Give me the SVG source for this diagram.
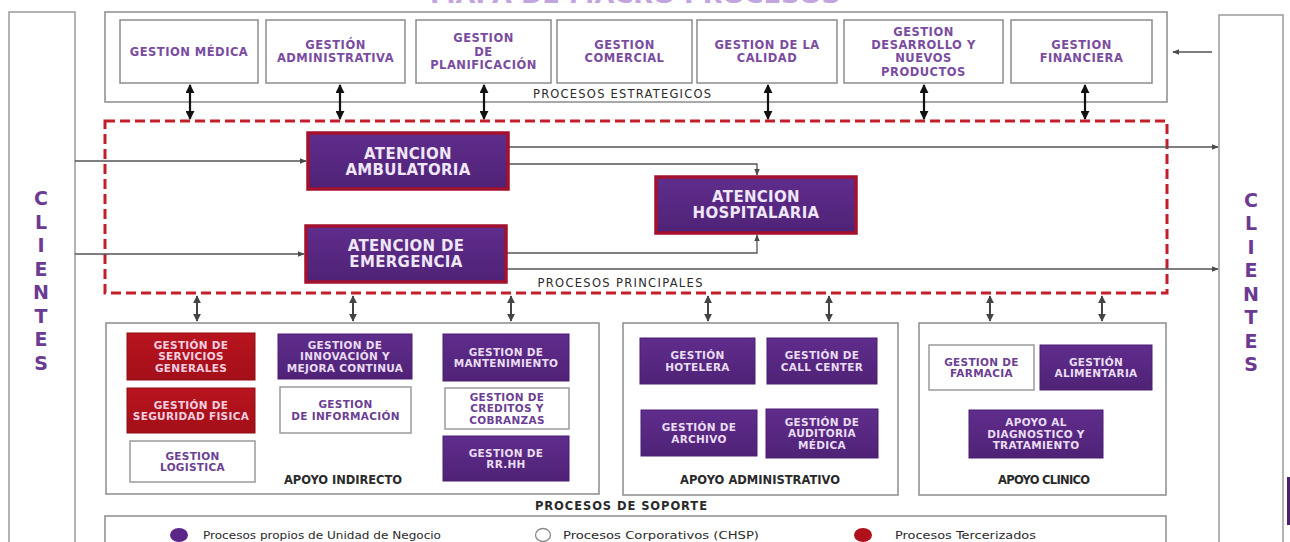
<svg xmlns="http://www.w3.org/2000/svg" width="1290" height="542" viewBox="0 0 1290 542">
  <defs>
    <linearGradient id="gPurple" x1="0" y1="0" x2="0" y2="1">
      <stop offset="0" stop-color="#5f2d8c"/>
      <stop offset="1" stop-color="#4f2276"/>
    </linearGradient>
    <linearGradient id="gRed" x1="0" y1="0" x2="0" y2="1">
      <stop offset="0" stop-color="#b8141e"/>
      <stop offset="1" stop-color="#a30f18"/>
    </linearGradient>
    <marker id="hdBig" viewBox="0 0 10 10" refX="9" refY="5" markerWidth="9" markerHeight="9" markerUnits="userSpaceOnUse" orient="auto-start-reverse">
      <path d="M0,0 L10,5 L0,10 z" fill="#111"/>
    </marker>
    <marker id="hdMid" viewBox="0 0 10 10" refX="9" refY="5" markerWidth="8" markerHeight="8" markerUnits="userSpaceOnUse" orient="auto-start-reverse">
      <path d="M0,0 L10,5 L0,10 z" fill="#444"/>
    </marker>
    <marker id="hdSm" viewBox="0 0 10 10" refX="9" refY="5" markerWidth="7" markerHeight="7" markerUnits="userSpaceOnUse" orient="auto">
      <path d="M0,1 L10,5 L0,9 z" fill="#4a4a4a"/>
    </marker>
  </defs>
  <style>
    .panel{fill:#fff;stroke:#9a9a9a;stroke-width:1.5}
    .frame{fill:#fff;stroke:#8c8c8c;stroke-width:1.5}
    .box{fill:#fff;stroke:#8c8c8c;stroke-width:1.5}
    .pbox{fill:url(#gPurple);stroke:#4a1f70;stroke-width:1}
    .rbox{fill:url(#gRed);stroke:#8e0c14;stroke-width:1}
    .wbox{fill:#fff;stroke:#9a9a9a;stroke-width:1.5}
    .main{fill:url(#gPurple);stroke:#a3112e;stroke-width:3.5}
    .dash{fill:none;stroke:#c21f2b;stroke-width:3;stroke-dasharray:10 5}
    text{font-family:"DejaVu Sans","Liberation Sans",sans-serif}
    .tt{font-size:11.5px;font-weight:bold;fill:#7a4ca0;text-anchor:middle;letter-spacing:0.5px}
    .mt{font-size:15px;font-weight:bold;fill:#efe6f7;text-anchor:middle;letter-spacing:0.3px}
    .st{font-size:10.5px;font-weight:bold;text-anchor:middle;letter-spacing:0.3px}
    .onP{fill:#e9dcf3}
    .onR{fill:#f3cfe0}
    .onW{fill:#6c3f95}
    .lab{font-size:11.5px;fill:#2a2a2a;text-anchor:middle}
    .labB{font-size:11.5px;font-weight:bold;fill:#2a2a2a;text-anchor:middle}
    .cli{font-size:19px;font-weight:bold;fill:#6b3a93;text-anchor:middle}
    .leg{font-size:11px;fill:#2a2a2a}
    .c1{fill:none;stroke:#111;stroke-width:2.2}
    .c2{fill:none;stroke:#444;stroke-width:2}
    .c3{fill:none;stroke:#555;stroke-width:1.3}
  </style>

  <!-- heading, running off the top edge -->
  <text x="635" y="3" font-size="22" font-weight="bold" fill="#c2a4df" text-anchor="middle" textLength="410" lengthAdjust="spacingAndGlyphs">MAPA DE MACRO PROCESOS</text>

  <!-- client columns -->
  <g id="clientes-izq">
    <rect class="panel" x="9" y="12" width="66" height="545"/>
    <text class="cli" x="41"><tspan x="41" y="205">C</tspan><tspan x="41" y="228.5">L</tspan><tspan x="41" y="252">I</tspan><tspan x="41" y="275.5">E</tspan><tspan x="41" y="299">N</tspan><tspan x="41" y="322.5">T</tspan><tspan x="41" y="346">E</tspan><tspan x="41" y="369.5">S</tspan></text>
  </g>
  <g id="clientes-der">
    <rect class="panel" x="1219" y="15" width="64" height="545"/>
    <text class="cli" x="1251"><tspan x="1251" y="206.5">C</tspan><tspan x="1251" y="230">L</tspan><tspan x="1251" y="253.5">I</tspan><tspan x="1251" y="277">E</tspan><tspan x="1251" y="300.5">N</tspan><tspan x="1251" y="324">T</tspan><tspan x="1251" y="347.5">E</tspan><tspan x="1251" y="371">S</tspan></text>
  </g>
  <rect x="1287" y="477" width="3" height="48" fill="#4a1f6e"/>

  <!-- strategic processes -->
  <g id="estrategicos">
    <rect class="frame" x="105" y="12" width="1062" height="90"/>
    <text class="lab" x="622" y="98" textLength="178" lengthAdjust="spacing">PROCESOS ESTRATEGICOS</text>
  </g>
  <g id="gestion-medica">
    <rect class="box" x="120" y="20" width="138" height="63"/>
    <text class="tt" x="189" y="55.7">GESTION MÉDICA</text>
  </g>
  <g id="gestion-administrativa">
    <rect class="box" x="266" y="20" width="139" height="63"/>
    <text class="tt"><tspan x="335.5" y="49">GESTIÓN</tspan><tspan x="335.5" y="62.3">ADMINISTRATIVA</tspan></text>
  </g>
  <g id="gestion-planificacion">
    <rect class="box" x="416" y="20" width="135" height="63"/>
    <text class="tt"><tspan x="483.5" y="42.4">GESTION</tspan><tspan x="483.5" y="55.7">DE</tspan><tspan x="483.5" y="69">PLANIFICACIÓN</tspan></text>
  </g>
  <g id="gestion-comercial">
    <rect class="box" x="557" y="20" width="135" height="63"/>
    <text class="tt"><tspan x="624.5" y="49">GESTION</tspan><tspan x="624.5" y="62.3">COMERCIAL</tspan></text>
  </g>
  <g id="gestion-calidad">
    <rect class="box" x="697" y="20" width="140" height="63"/>
    <text class="tt"><tspan x="767" y="49">GESTION DE LA</tspan><tspan x="767" y="62.3">CALIDAD</tspan></text>
  </g>
  <g id="gestion-desarrollo">
    <rect class="box" x="844" y="20" width="159" height="63"/>
    <text class="tt"><tspan x="923.5" y="35.7">GESTION</tspan><tspan x="923.5" y="49">DESARROLLO Y</tspan><tspan x="923.5" y="62.3">NUEVOS</tspan><tspan x="923.5" y="75.6">PRODUCTOS</tspan></text>
  </g>
  <g id="gestion-financiera">
    <rect class="box" x="1011" y="20" width="141" height="63"/>
    <text class="tt"><tspan x="1081.5" y="49">GESTION</tspan><tspan x="1081.5" y="62.3">FINANCIERA</tspan></text>
  </g>

  <!-- main processes -->
  <g id="principales">
    <rect class="dash" x="105" y="121" width="1062" height="172"/>
    <text class="lab" x="620" y="287" textLength="165" lengthAdjust="spacing">PROCESOS PRINCIPALES</text>
  </g>

  <!-- support processes -->
  <g id="soporte">
    <text class="labB" x="621" y="510" textLength="172" lengthAdjust="spacing">PROCESOS DE SOPORTE</text>
  </g>
  <g id="apoyo-indirecto">
    <rect class="frame" x="106" y="323" width="493" height="171"/>
    <text class="labB" x="343" y="484" textLength="118" lengthAdjust="spacing">APOYO INDIRECTO</text>
  </g>
  <g id="apoyo-administrativo">
    <rect class="frame" x="623" y="323" width="275" height="172"/>
    <text class="labB" x="760" y="484" textLength="160" lengthAdjust="spacing">APOYO ADMINISTRATIVO</text>
  </g>
  <g id="apoyo-clinico">
    <rect class="frame" x="919" y="323" width="247" height="172"/>
    <text class="labB" x="1044" y="484" textLength="92" lengthAdjust="spacing">APOYO CLINICO</text>
  </g>

  <!-- connectors -->
  <g id="conectores">
    <path class="c1" d="M190,85 V119" marker-start="url(#hdBig)" marker-end="url(#hdBig)"/>
    <path class="c1" d="M340,85 V119" marker-start="url(#hdBig)" marker-end="url(#hdBig)"/>
    <path class="c1" d="M484,85 V119" marker-start="url(#hdBig)" marker-end="url(#hdBig)"/>
    <path class="c1" d="M768,85 V119" marker-start="url(#hdBig)" marker-end="url(#hdBig)"/>
    <path class="c1" d="M924,85 V119" marker-start="url(#hdBig)" marker-end="url(#hdBig)"/>
    <path class="c1" d="M1085,85 V119" marker-start="url(#hdBig)" marker-end="url(#hdBig)"/>

    <path class="c2" d="M197,296 V321" marker-start="url(#hdMid)" marker-end="url(#hdMid)"/>
    <path class="c2" d="M353,296 V321" marker-start="url(#hdMid)" marker-end="url(#hdMid)"/>
    <path class="c2" d="M511,296 V321" marker-start="url(#hdMid)" marker-end="url(#hdMid)"/>
    <path class="c2" d="M708,296 V321" marker-start="url(#hdMid)" marker-end="url(#hdMid)"/>
    <path class="c2" d="M829,296 V321" marker-start="url(#hdMid)" marker-end="url(#hdMid)"/>
    <path class="c2" d="M990,296 V321" marker-start="url(#hdMid)" marker-end="url(#hdMid)"/>
    <path class="c2" d="M1102,296 V321" marker-start="url(#hdMid)" marker-end="url(#hdMid)"/>

    <path class="c3" d="M1212,52 H1173" marker-end="url(#hdSm)"/>
    <path class="c3" d="M75,161 H306" marker-end="url(#hdSm)"/>
    <path class="c3" d="M75,254 H304" marker-end="url(#hdSm)"/>
    <path class="c3" d="M509,147 H1218" marker-end="url(#hdSm)"/>
    <path class="c3" d="M509,164 H757 V175" marker-end="url(#hdSm)"/>
    <path class="c3" d="M507,253 H757 V235" marker-end="url(#hdSm)"/>
    <path class="c3" d="M507,269 H1218" marker-end="url(#hdSm)"/>
  </g>

  <g id="atencion-ambulatoria">
    <rect class="main" x="308" y="133" width="200" height="56"/>
    <text class="mt"><tspan x="408" y="158.5">ATENCION</tspan><tspan x="408" y="174.5">AMBULATORIA</tspan></text>
  </g>
  <g id="atencion-emergencia">
    <rect class="main" x="306" y="226" width="200" height="56"/>
    <text class="mt"><tspan x="406" y="250.5">ATENCION DE</tspan><tspan x="406" y="266.5">EMERGENCIA</tspan></text>
  </g>
  <g id="atencion-hospitalaria">
    <rect class="main" x="656" y="177" width="200" height="56"/>
    <text class="mt"><tspan x="756" y="202">ATENCION</tspan><tspan x="756" y="218">HOSPITALARIA</tspan></text>
  </g>

  <!-- indirect support -->
  <g id="servicios-generales">
    <rect class="rbox" x="127" y="333" width="128" height="47"/>
    <text class="st onR"><tspan x="191" y="348.8">GESTIÓN DE</tspan><tspan x="191" y="360.3">SERVICIOS</tspan><tspan x="191" y="371.8">GENERALES</tspan></text>
  </g>
  <g id="seguridad-fisica">
    <rect class="rbox" x="127" y="388" width="128" height="45"/>
    <text class="st onR"><tspan x="191" y="408.5">GESTIÓN DE</tspan><tspan x="191" y="420">SEGURIDAD FISICA</tspan></text>
  </g>
  <g id="logistica">
    <rect class="wbox" x="130" y="441" width="125" height="41"/>
    <text class="st onW"><tspan x="192.5" y="459.5">GESTION</tspan><tspan x="192.5" y="471">LOGISTICA</tspan></text>
  </g>
  <g id="innovacion">
    <rect class="pbox" x="278" y="334" width="134" height="45"/>
    <text class="st onP"><tspan x="345" y="348.8">GESTION DE</tspan><tspan x="345" y="360.3">INNOVACIÓN Y</tspan><tspan x="345" y="371.8">MEJORA CONTINUA</tspan></text>
  </g>
  <g id="informacion">
    <rect class="wbox" x="280" y="387" width="131" height="46"/>
    <text class="st onW"><tspan x="345.5" y="408">GESTION</tspan><tspan x="345.5" y="419.5">DE INFORMACIÓN</tspan></text>
  </g>
  <g id="mantenimiento">
    <rect class="pbox" x="443" y="334" width="126" height="47"/>
    <text class="st onP"><tspan x="506" y="355.5">GESTION DE</tspan><tspan x="506" y="367">MANTENIMIENTO</tspan></text>
  </g>
  <g id="creditos">
    <rect class="wbox" x="445" y="388" width="124" height="41"/>
    <text class="st onW"><tspan x="507" y="400.8">GESTION DE</tspan><tspan x="507" y="412.3">CREDITOS Y</tspan><tspan x="507" y="423.8">COBRANZAS</tspan></text>
  </g>
  <g id="rrhh">
    <rect class="pbox" x="443" y="436" width="126" height="45"/>
    <text class="st onP"><tspan x="506" y="456.5">GESTION DE</tspan><tspan x="506" y="468">RR.HH</tspan></text>
  </g>

  <!-- administrative support -->
  <g id="hotelera">
    <rect class="pbox" x="640" y="338" width="115" height="46"/>
    <text class="st onP"><tspan x="697.5" y="359">GESTIÓN</tspan><tspan x="697.5" y="370.5">HOTELERA</tspan></text>
  </g>
  <g id="call-center">
    <rect class="pbox" x="767" y="338" width="110" height="46"/>
    <text class="st onP"><tspan x="822" y="359">GESTIÓN DE</tspan><tspan x="822" y="370.5">CALL CENTER</tspan></text>
  </g>
  <g id="archivo">
    <rect class="pbox" x="641" y="410" width="116" height="46"/>
    <text class="st onP"><tspan x="699" y="431">GESTIÓN DE</tspan><tspan x="699" y="442.5">ARCHIVO</tspan></text>
  </g>
  <g id="auditoria">
    <rect class="pbox" x="766" y="409" width="112" height="49"/>
    <text class="st onP"><tspan x="822" y="425.8">GESTIÓN DE</tspan><tspan x="822" y="437.3">AUDITORIA</tspan><tspan x="822" y="448.8">MÉDICA</tspan></text>
  </g>

  <!-- clinical support -->
  <g id="farmacia">
    <rect class="wbox" x="929" y="345" width="105" height="45"/>
    <text class="st onW"><tspan x="981.5" y="365.5">GESTION DE</tspan><tspan x="981.5" y="377">FARMACIA</tspan></text>
  </g>
  <g id="alimentaria">
    <rect class="pbox" x="1040" y="345" width="112" height="45"/>
    <text class="st onP"><tspan x="1096" y="365.5">GESTIÓN</tspan><tspan x="1096" y="377">ALIMENTARIA</tspan></text>
  </g>
  <g id="diagnostico">
    <rect class="pbox" x="969" y="410" width="134" height="48"/>
    <text class="st onP"><tspan x="1036" y="426.3">APOYO AL</tspan><tspan x="1036" y="437.8">DIAGNOSTICO Y</tspan><tspan x="1036" y="449.3">TRATAMIENTO</tspan></text>
  </g>

  <!-- legend -->
  <g id="leyenda">
    <rect class="frame" x="105" y="516" width="1061" height="40"/>
    <ellipse cx="179" cy="535" rx="9" ry="7" fill="#5a2788"/>
    <text class="leg" x="203" y="539" textLength="238" lengthAdjust="spacingAndGlyphs">Procesos propios de Unidad de Negocio</text>
    <ellipse cx="543" cy="535" rx="7.5" ry="6.5" fill="#fff" stroke="#8a8a8a" stroke-width="1.3"/>
    <text class="leg" x="563" y="539" textLength="196" lengthAdjust="spacingAndGlyphs">Procesos Corporativos (CHSP)</text>
    <ellipse cx="863" cy="535" rx="9" ry="7" fill="#b0101c"/>
    <text class="leg" x="895" y="539" textLength="141" lengthAdjust="spacingAndGlyphs">Procesos Tercerizados</text>
  </g>
</svg>
